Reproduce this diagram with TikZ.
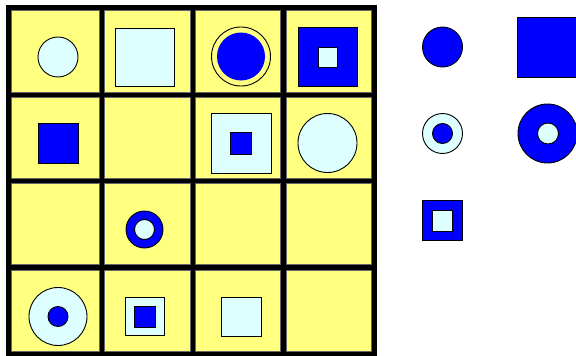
\documentclass[tikz,border=0pt]{standalone}
\definecolor{cellyellow}{HTML}{FFFF80}
\definecolor{lcyan}{HTML}{DDFFFF}
\definecolor{pblue}{HTML}{0000FF}
\tikzset{
  cellbox/.style={fill=cellyellow, draw=black!60, line width=0.6pt},
  cyanshape/.style={fill=lcyan, draw=black, line width=0.9pt},
  blueshape/.style={fill=pblue, draw=black, line width=0.9pt},
  yellowshape/.style={fill=cellyellow, draw=black, line width=0.9pt},
}
\begin{document}
\begin{tikzpicture}[x=1pt,y=-1pt]
\useasboundingbox (0,0) rectangle (576,356);
% grid background
\fill[black] (6,5) rectangle (376.5,356);
\foreach \xa/\xb in {11/99,104/190,195/280.5,286/371}{
  \foreach \ya/\yb in {10/92.5,97/178,183/264,270/351}{
    \draw[cellbox] (\xa,\ya) rectangle (\xb,\yb);
  }
}
% row 1
\draw[cyanshape] (58,57) circle (20);
\draw[cyanshape] (115,28) rectangle (174,86);
\draw[yellowshape] (241,56.5) circle (29.5);
\fill[pblue] (241,56.5) circle (24);
\draw[blueshape] (298,27) rectangle (357,86);
\draw[cyanshape] (318,47) rectangle (337,67);
% row 2
\draw[blueshape] (38.5,123) rectangle (78.5,163);
\draw[cyanshape] (211,113) rectangle (271,173);
\draw[blueshape] (230,132) rectangle (251.5,154);
\draw[cyanshape] (327.5,143) circle (29.5);
% row 3
\draw[blueshape] (144.5,229.5) circle (18.5);
\draw[cyanshape] (144.5,229.5) circle (10);
% row 4
\draw[cyanshape] (58,316.5) circle (29);
\draw[blueshape] (58,316.5) circle (10);
\draw[cyanshape] (125,297) rectangle (164,335.5);
\draw[blueshape] (134,306) rectangle (155.5,327);
\draw[cyanshape] (221,297) rectangle (261,336);
% legend
\draw[blueshape] (442.5,47) circle (20);
\draw[blueshape] (517.5,17) rectangle (577,77);
\draw[cyanshape] (442.5,133.5) circle (20);
\draw[blueshape] (442.5,133.5) circle (10);
\draw[blueshape] (547.5,133.5) circle (29.5);
\draw[cyanshape] (548,133.5) circle (10.5);
\draw[blueshape] (422.5,200) rectangle (462.5,240);
\draw[cyanshape] (432.5,210) rectangle (452.5,231);
\end{tikzpicture}
\end{document}
